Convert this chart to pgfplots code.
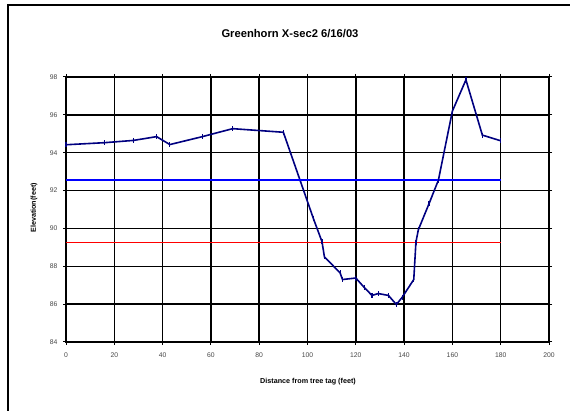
\documentclass[border=0pt]{standalone}
\usepackage{fontspec}
\setmainfont{Liberation Sans}
\usepackage{pgfplots}
\pgfplotsset{compat=1.18}
\definecolor{navyline}{RGB}{0,0,128}
\definecolor{ticktext}{RGB}{70,70,70}
\begin{document}
\begin{tikzpicture}[x=1pt,y=1pt]
\useasboundingbox (0,0) rectangle (570,411);
\draw[line width=1.6pt] (8,0) -- (8,406) -- (570,406);
\begin{axis}[at={(66pt,69pt)}, anchor=south west, scale only axis,
  width=483pt, height=265pt,
  xmin=0, xmax=200, ymin=84, ymax=98,
  xtick={0,20,...,200}, ytick={84,86,...,98},
  grid=major, grid style={black, line width=1.5pt},
  axis line style={black, line width=1.5pt},
  tick align=outside, major tick length=3pt, tick style={black, line width=1pt},
  /pgf/number format/assume math mode=true,
  ticklabel style={font=\fontsize{6.8}{7}\selectfont, text=ticktext},
  xticklabel style={yshift=-4pt},
  yticklabel style={xshift=-2pt},
  clip=false]
\addplot[navyline, line width=1.6pt, mark=|, mark size=2.5pt, mark options={line width=1.2pt}] coordinates {
(0,94.42) (16,94.53) (28,94.65) (37.5,94.85) (43,94.43) (56.5,94.85) (69,95.27) (90,95.08)
(102.5,90.5) (106,89.3) (107,88.5) (113.5,87.65) (114.5,87.3) (120,87.38) (123.5,86.88)
(126.7,86.46) (129.3,86.56) (133.5,86.46) (136.8,85.98) (139.2,86.36) (144,87.3)
(144.9,89.28) (145.9,89.93) (150.3,91.3) (154.2,92.55) (160,96.2) (165.6,97.85)
(172.4,94.93) (180,94.63)};
\addplot[blue, line width=1.4pt] coordinates {(0,92.56) (180,92.56)};
\addplot[red, line width=1.4pt] coordinates {(0,89.26) (180,89.26)};
\end{axis}
\node[font=\fontsize{11.2}{12}\selectfont\bfseries] at (290,377) {Greenhorn X-sec2 6/16/03};
\node[font=\fontsize{7.2}{8}\selectfont\bfseries] at (308,29) {Distance from tree tag (feet)};
\node[font=\fontsize{7.2}{8}\selectfont\bfseries, rotate=90] at (34,203) {Elevation(feet)};
\end{tikzpicture}
\end{document}
